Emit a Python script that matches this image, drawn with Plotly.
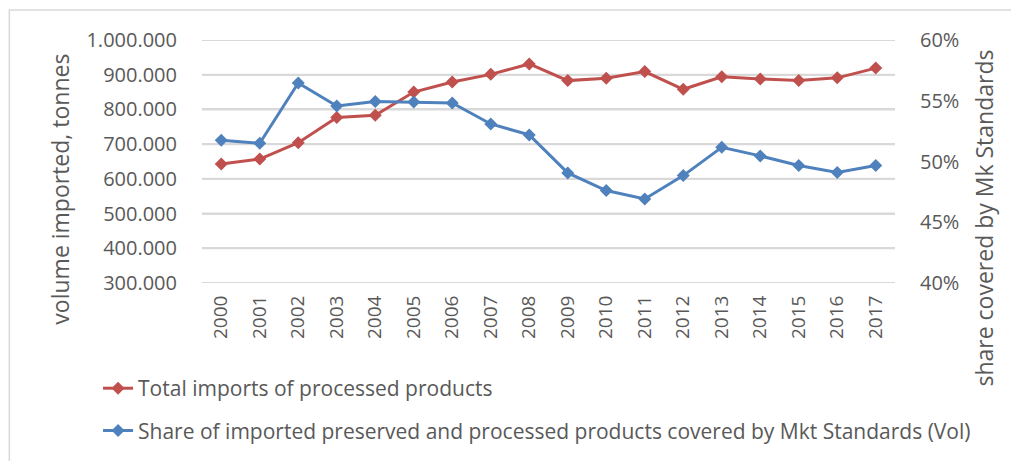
import plotly.graph_objects as go

years = [str(y) for y in range(2000, 2018)]
total_imports = [643000, 657000, 704000, 777000, 783000, 850000, 879000, 901000, 931000,
                 883000, 890000, 909000, 858000, 894000, 888000, 883000, 891000, 919000]
share_covered = [0.5175, 0.515, 0.5646, 0.5457, 0.5493, 0.549, 0.5482, 0.5309, 0.5219,
                 0.4906, 0.4761, 0.4692, 0.4884, 0.5117, 0.5046, 0.4967, 0.4909, 0.4967]
volume_ticks = [300000, 400000, 500000, 600000, 700000, 800000, 900000, 1000000]

RED = '#C0504D'
BLUE = '#4F81BD'
TXT = '#595959'
GRID = '#D9D9D9'
FONT = 'Open Sans'

fig = go.Figure()

# Total imports (left axis)
fig.add_trace(go.Scatter(
    x=years, y=total_imports,
    mode='lines+markers',
    name='Total imports of processed products',
    line=dict(color=RED, width=3),
    marker=dict(symbol='diamond', size=10, color=RED),
    legendgroup='a',
))

# Share covered (right axis)
fig.add_trace(go.Scatter(
    x=years, y=share_covered,
    mode='lines+markers',
    name='Share of imported preserved and processed products covered by Mkt Standards (Vol)',
    line=dict(color=BLUE, width=3),
    marker=dict(symbol='diamond', size=10, color=BLUE),
    yaxis='y2',
    legendgroup='b',
))

fig.update_layout(
    width=1011, height=453,
    margin=dict(l=194, r=124, t=32, b=178, autoexpand=False),
    paper_bgcolor='white', plot_bgcolor='rgba(0,0,0,0)',
    separators=',.',
    font=dict(family=FONT, size=20, color=TXT),
    xaxis=dict(
        type='category', range=[-0.5, 17.5], tickangle=-90,
        showgrid=False, showline=False, zeroline=False,
        ticks='outside', ticklen=4, tickcolor='rgba(0,0,0,0)',
        tickfont=dict(size=19, color=TXT), automargin=False,
    ),
    yaxis=dict(
        range=[300000, 1000000], tickvals=volume_ticks, tickformat=',d',
        showgrid=True, gridcolor=GRID, gridwidth=2,
        zeroline=False, showline=False,
        ticks='outside', ticklen=20, tickcolor='rgba(0,0,0,0)', automargin=False,
    ),
    yaxis2=dict(
        overlaying='y', side='right',
        range=[0.40, 0.60], dtick=0.05, tickformat='.0%',
        showgrid=False, zeroline=False, showline=False,
        ticks='outside', ticklen=20, tickcolor='rgba(0,0,0,0)', automargin=False,
    ),
    legend=dict(
        x=-0.15, y=-0.35, xanchor='left', yanchor='top',
        orientation='v', traceorder='grouped', tracegroupgap=12,
        font=dict(size=21, color=TXT), bgcolor='rgba(0,0,0,0)',
    ),
)

# horizontal gridlines at the left-axis ticks
for v in volume_ticks:
    fig.add_shape(
        type='line', xref='paper', yref='y', x0=0, x1=1, y0=v, y1=v,
        line=dict(color=GRID, width=2), layer='below',
    )

# axis titles placed as in the original
fig.add_annotation(
    text='volume imported, tonnes', textangle=-90, showarrow=False,
    xref='paper', yref='paper', x=-0.205, y=0.388, xanchor='center', yanchor='middle',
    font=dict(size=23, color=TXT),
)
fig.add_annotation(
    text='share covered by Mk Standards', textangle=-90, showarrow=False,
    xref='paper', yref='paper', x=1.128, y=0.268, xanchor='center', yanchor='middle',
    font=dict(size=23, color=TXT),
)

# light frame around the chart area
fig.add_shape(
    type='rect', xref='paper', yref='paper',
    x0=-0.278, x1=1.25, y0=-0.85, y1=1.123,
    line=dict(color=GRID, width=1.5),
)

fig.write_html("out.html")
